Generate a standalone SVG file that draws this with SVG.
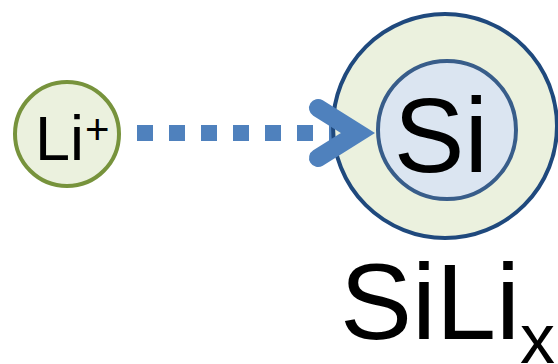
<svg xmlns="http://www.w3.org/2000/svg" width="558" height="364" viewBox="0 0 558 364">
<style>
text{font-family:"Liberation Sans",Arial,sans-serif;fill:#000}
.arr{fill:none;stroke:#4F81BD}
</style>
<rect width="558" height="364" fill="#fff"/>
<g id="connectors">
<line class="arr" x1="137" y1="133" x2="345" y2="133" stroke-width="16" stroke-dasharray="16 16"/>
</g>
<g id="sili">
<circle cx="445" cy="126" r="112" fill="#EBF1DE" stroke="#1F497D" stroke-width="4"/>
<text x="340" y="339" font-size="108">SiLi</text>
<text x="520" y="363" font-size="70">x</text>
</g>
<g id="si">
<circle cx="447" cy="130" r="69" fill="#DBE5F1" stroke="#385D8A" stroke-width="4"/>
<text x="441" y="172" font-size="106" text-anchor="middle">Si</text>
</g>
<g id="arrowhead">
<polyline class="arr" points="318,108 358,133 318,158" stroke-width="18" stroke-linecap="round" stroke-linejoin="miter" stroke-miterlimit="10"/>
</g>
<g id="li">
<circle cx="67" cy="134" r="52" fill="#EBF1DE" stroke="#77933C" stroke-width="4"/>
<text x="35" y="160" font-size="63">Li</text>
<text x="85" y="144" font-size="42">+</text>
</g>
</svg>
